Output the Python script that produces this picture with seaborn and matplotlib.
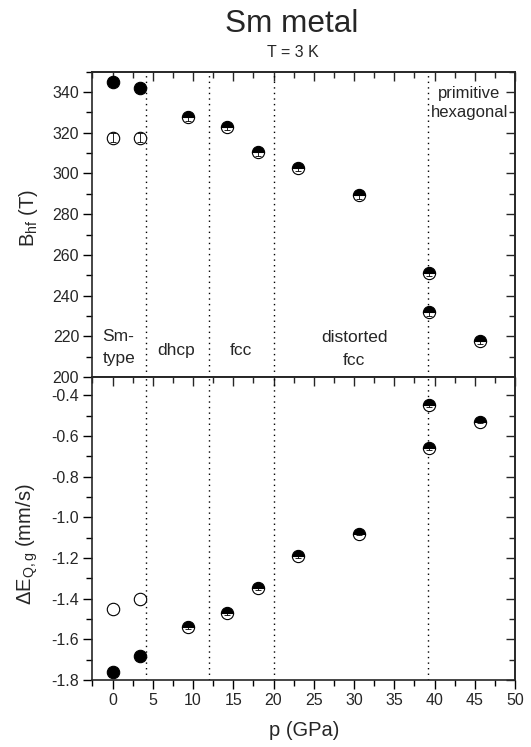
import numpy as np
import pandas as pd
import seaborn as sns
import matplotlib.pyplot as plt
from matplotlib.ticker import MultipleLocator

# %% data

p_pure = [0, 3.4]
bhf_filled = [344.8, 342.0]
bhf_open = [317.6, 317.6]
deq_filled = [-1.76, -1.68]
deq_open = [-1.45, -1.40]

p_mix = [9.4, 14.2, 18.1, 23.0, 30.6, 39.3, 39.3, 45.6]
bhf_mix = [327.6, 323.0, 310.4, 302.9, 289.3, 251.2, 231.8, 217.8]
deq_mix = [-1.54, -1.47, -1.35, -1.19, -1.08, -0.45, -0.66, -0.53]

phase_bounds = [4.2, 12.0, 20.0, 39.2]

# %%

sns.set_style("ticks")
plt.rcParams['font.family'] = ['Liberation Sans', 'DejaVu Sans']
plt.rcParams['mathtext.fontset'] = 'custom'
plt.rcParams['mathtext.rm'] = 'Liberation Sans'
plt.rcParams['mathtext.it'] = 'Liberation Sans'

fig = plt.figure(figsize=(5.31, 7.47), dpi=100)
ax1 = fig.add_axes([0.174, 0.4953, 0.796, 0.4087])
ax2 = fig.add_axes([0.174, 0.0897, 0.796, 0.4056], sharex=ax1)

top = pd.DataFrame({'p': p_pure, 'filled': bhf_filled, 'open': bhf_open})
bot = pd.DataFrame({'p': p_pure, 'filled': deq_filled, 'open': deq_open})

for ax, df, ymix, err in [(ax1, top, bhf_mix, 1.6), (ax2, bot, deq_mix, 0.008)]:
    sns.scatterplot(data=df, x='p', y='filled', ax=ax, color='black', s=80,
                    edgecolor='black', linewidth=0.8, zorder=3)
    sns.scatterplot(data=df, x='p', y='open', ax=ax, facecolor='white', s=80,
                    edgecolor='black', linewidth=0.8, zorder=3)
    ax.plot(p_mix, ymix, 'o', ms=8.8, fillstyle='top', markerfacecolor='black',
            markerfacecoloralt='white', markeredgecolor='black', mew=0.8,
            zorder=3)
    ax.errorbar(p_mix, ymix, yerr=err, fmt='none', ecolor='black', elinewidth=0.6,
                capsize=2.5, capthick=0.6, zorder=4)
    for xb in phase_bounds:
        ax.axvline(xb, color='black', ls=(0, (1, 3)), lw=1.0, zorder=1)

ax1.errorbar(p_pure, bhf_open, yerr=2.2, fmt='none', ecolor='black', elinewidth=0.6,
             capsize=2.5, capthick=0.6, zorder=4)

ax1.set_ylim(200, 350)
ax2.set_ylim(-1.8, -0.31)
ax1.set_xlim(-2.5, 50)

ax1.yaxis.set_major_locator(MultipleLocator(20))
ax1.yaxis.set_minor_locator(MultipleLocator(10))
ax2.yaxis.set_major_locator(MultipleLocator(0.2))
ax2.yaxis.set_minor_locator(MultipleLocator(0.1))
ax2.xaxis.set_major_locator(MultipleLocator(5))
ax2.xaxis.set_minor_locator(MultipleLocator(2.5))
ax2.set_yticks(np.arange(-1.8, -0.39, 0.2))
ax2.set_yticklabels(['-1.8', '-1.6', '-1.4', '-1.2', '-1.0', '-0.8', '-0.6', '-0.4'])

for ax in (ax1, ax2):
    for s in ax.spines.values():
        s.set_visible(True)
        s.set_linewidth(1.2)
    ax.tick_params(which='both', direction='out', labelsize=11.5, width=1.0,
                   color='black', pad=3, top=False, right=False)
    ax.tick_params(which='major', length=6.5)
    ax.tick_params(which='minor', length=4)

    # inward ticks on the right side
    sy = ax.secondary_yaxis('right')
    sy.yaxis.set_major_locator(MultipleLocator(20 if ax is ax1 else 0.2))
    sy.yaxis.set_minor_locator(MultipleLocator(10 if ax is ax1 else 0.1))
    sy.tick_params(which='both', direction='in', labelright=False, width=1.0)
    sy.tick_params(which='major', length=6.5)
    sy.tick_params(which='minor', length=4)
    sy.spines['right'].set_linewidth(1.2)

    # inward ticks on the top side
    sx = ax.secondary_xaxis('top')
    sx.xaxis.set_major_locator(MultipleLocator(5))
    sx.xaxis.set_minor_locator(MultipleLocator(2.5))
    sx.tick_params(which='both', direction='in', labeltop=False, width=1.0)
    sx.tick_params(which='major', length=6.5)
    sx.tick_params(which='minor', length=4)
    sx.spines['top'].set_linewidth(1.2)

ax1.tick_params(axis='x', which='both', bottom=False, labelbottom=False)

ax1.set_xlabel('')
ax2.set_xlabel('p (GPa)', fontsize=14.5, labelpad=9)
ax1.set_ylabel('B$_{\\mathregular{hf}}$ (T)', fontsize=14.5)
ax2.set_ylabel('ΔE$_{\\mathregular{Q,g}}$ (mm/s)', fontsize=14.5)
ax1.yaxis.set_label_coords(-0.123, 0.52)
ax2.yaxis.set_label_coords(-0.123, 0.447)

ax1.text(-1.24, 214.5, 'Sm-\ntype', fontsize=12.5, ha='left', va='center', linespacing=1.6)
ax1.text(7.9, 213.0, 'dhcp', fontsize=12.5, ha='center', va='center')
ax1.text(15.9, 213.0, 'fcc', fontsize=12.5, ha='center', va='center')
ax1.text(30.0, 213.8, 'distorted\nfcc', fontsize=12.5, ha='center', va='center', linespacing=1.6)
ax1.text(44.3, 334.6, 'primitive\nhexagonal', fontsize=12, ha='center', va='center', linespacing=1.35)

fig.text(0.549, 0.957, 'Sm metal', fontsize=22.7, ha='center', va='baseline')
fig.text(0.552, 0.9233, 'T = 3 K', fontsize=11.5, ha='center', va='baseline')

fig.savefig('out.png', dpi=100)
